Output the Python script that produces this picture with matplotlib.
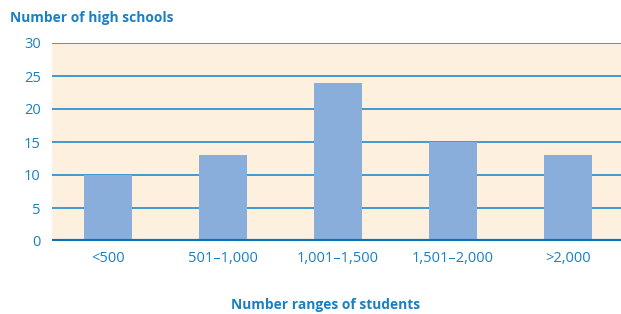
import matplotlib.pyplot as plt

categories = ["<500", "501–1,000", "1,001–1,500", "1,501–2,000", ">2,000"]
schools = [10, 13, 24, 15, 13]
yticks = [0, 5, 10, 15, 20, 25, 30]

blue_text = "#1a80c4"
grid_blue = "#1f8ad0"
bar_blue = "#8aaedb"
bg = "#fdf0df"

plt.rcParams["font.family"] = ["Open Sans", "DejaVu Sans"]

fig = plt.figure(figsize=(6.21, 3.14), dpi=100)
ax = fig.add_axes([52 / 621, 73 / 314, 569 / 621, 198 / 314])
ax.set_facecolor(bg)

x = range(len(categories))
ax.bar(x, schools, width=0.42, color=bar_blue, zorder=3)

ax.set_xlim(-0.487, 4.46)
ax.set_ylim(0, 30)
ax.set_yticks(yticks)
ax.yaxis.grid(True, color=grid_blue, linewidth=1.2, zorder=1)
ax.axhline(0, color="#0a72b8", linewidth=3, zorder=4)

for s in ax.spines.values():
    s.set_visible(False)

ax.set_xticks(list(x))
ax.set_xticklabels(categories)
ax.tick_params(axis="both", length=0, labelcolor=blue_text, labelsize=10.5)
ax.tick_params(axis="y", pad=8)
ax.tick_params(axis="x", pad=7)

fig.text(10 / 621, 1 - 18 / 314, "Number of high schools", color=blue_text,
         fontsize=9.9, fontweight="bold", va="center", ha="left")
fig.text(326 / 621, 1 - 305 / 314, "Number ranges of students", color=blue_text,
         fontsize=9.9, fontweight="bold", va="center", ha="center")

fig.savefig("out.png", dpi=100)
